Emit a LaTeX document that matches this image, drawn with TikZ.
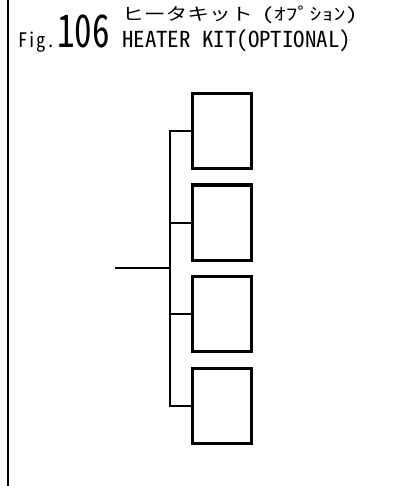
\documentclass[tikz,border=0pt]{standalone}
\usepackage{fontspec}
\setmainfont{Noto Sans CJK JP}
\newfontfamily\jpfont{Noto Sans CJK JP}
\newfontfamily\halffont[RawFeature=+hwid]{Noto Sans CJK JP}
\usetikzlibrary{positioning}

\tikzset{
    heater/.style={draw, line width=3pt, minimum width=59pt, minimum height=75pt, inner sep=0pt},
    wire/.style={line width=2pt},
    caption/.style={anchor=base west, inner sep=0pt},
}

\begin{document}
\begin{tikzpicture}[x=1pt, y=-1pt]
    \useasboundingbox (0,0) rectangle (398,486);
    \draw[wire] (8,0) -- (8,486);

    % title
    \node[caption] (figlabel) at (18,48) {\halffont\fontsize{20}{20}\selectfont\scalebox{0.93}[1]{Fig.}};
    \node[caption] (fignum) at (57,48) {\halffont\fontsize{45}{45}\selectfont\scalebox{0.78}[1]{106}};
    \node[caption] (titlejp) at (122,21) {\fontsize{17}{17}\selectfont
        \scalebox{1.28}[1]{\jpfont ヒータキット}\hspace{9pt}\scalebox{1.41}[1]{\halffont (ｵﾌﾟｼｮﾝ)}};
    \node[caption] (titleen) at (122,48) {\halffont\fontsize{22}{22}\selectfont\scalebox{1.04}[1]{HEATER KIT(OPTIONAL)}};

    % heaters
    \foreach \n/\y in {A/131, B/222.5, C/314, D/405.5}
        \node[heater] (heater\n) at (222,\y) {};

    \coordinate (junction) at (170,268);
    \coordinate (feed) at (115,268);
    \draw[wire] (feed) -- (junction);
    \foreach \n in {A, B, C, D}
        \draw[wire] (junction) |- (heater\n.west);
\end{tikzpicture}
\end{document}
